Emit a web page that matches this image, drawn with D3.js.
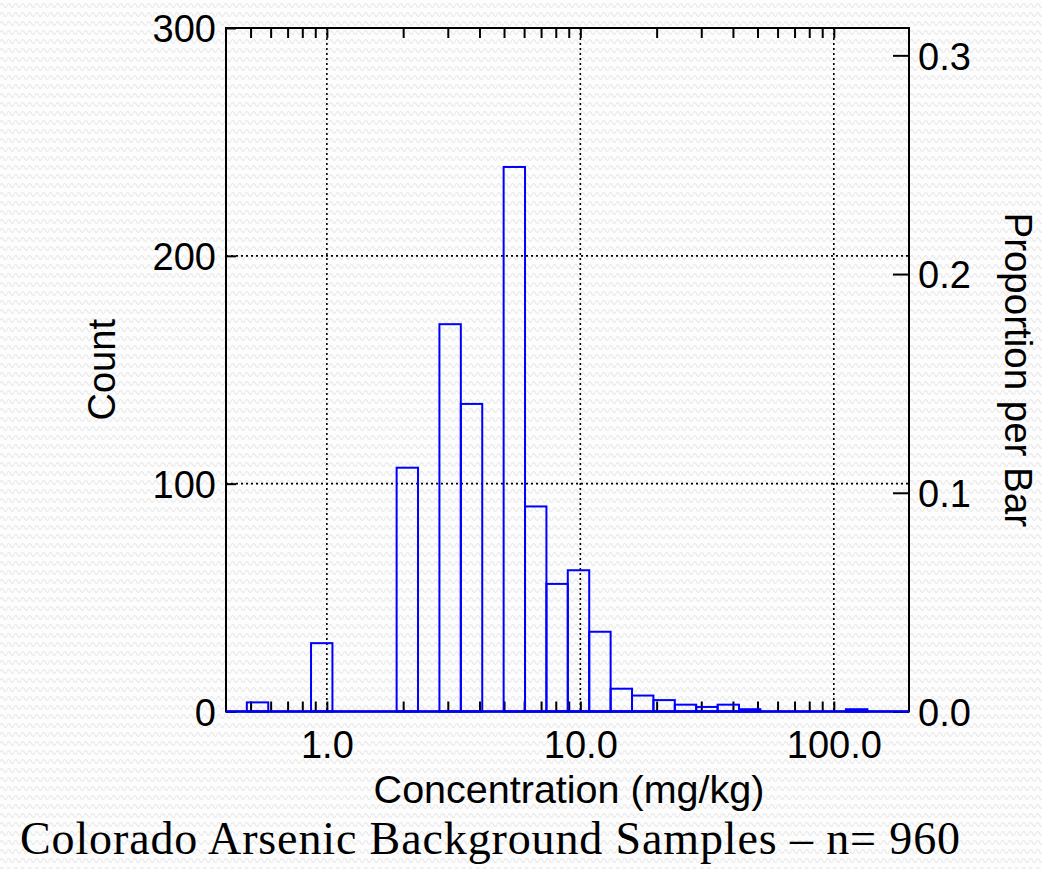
<!DOCTYPE html>
<meta charset="utf-8">
<style>
  body { margin: 0; background: #ffffff; }
  text { font-family: "Liberation Sans", Arial, sans-serif; }
</style>

<!-- Load d3.js -->
<script src="https://d3js.org/d3.v7.min.js"></script>

<div id="chart"></div>

<script>

// histogram bins (log spaced), lower/upper edges in mg/kg
const binEdges = [0.4834, 0.5871, 0.7129, 0.8660, 1.0519, 1.2776, 1.5516, 1.8847, 2.2889, 2.7800,
                  3.3770, 4.1019, 4.9819, 6.0509, 7.3487, 8.9238, 10.840, 13.167, 15.992, 19.423,
                  23.589, 28.649, 34.797, 42.267, 51.331, 62.34, 75.71, 91.96, 111.7, 135.7];
// count in each bin
const counts = [4, 0, 0, 30, 0, 0, 0, 107, 0, 170,
                135, 0, 239, 90, 56, 62, 35, 10, 7, 5,
                3, 2, 3, 1, 0, 0, 0, 0, 1];
const nTotal = 960;

// tick labels
const xMajor = [1, 10, 100];
const xMinor = [0.5, 0.6, 0.7, 0.8, 0.9, 2, 3, 4, 5, 6, 7, 8, 9, 20, 30, 40, 50, 60, 70, 80, 90];
const yTicks = [0, 100, 200, 300];
const propTicks = [0.0, 0.1, 0.2, 0.3];

const W = 1042, H = 869;
const plot = {left: 226, right: 909, top: 28, bottom: 711.5};

const svg = d3.select("#chart")
  .append("svg")
  .attr("width", W)
  .attr("height", H);

// textured background
const defs = svg.append("defs");
const pat = defs.append("pattern")
  .attr("id", "bg")
  .attr("width", 7)
  .attr("height", 9)
  .attr("patternUnits", "userSpaceOnUse");
pat.append("rect").attr("width", 7).attr("height", 9).attr("fill", "#fdfdfd");
pat.append("path")
  .attr("d", "M0,5.5 Q1.75,1.5 3.5,5.5 T7,5.5")
  .attr("fill", "none")
  .attr("stroke", "#e9e9e9")
  .attr("stroke-width", 1.2);
svg.append("rect").attr("width", W).attr("height", H).attr("fill", "url(#bg)");

// scales
const x = d3.scaleLog()
  .domain([0.4, 198])
  .range([plot.left, plot.right]);

const y = d3.scaleLinear()
  .domain([0, 300])
  .range([plot.bottom, plot.top]);

const yProp = d3.scaleLinear()
  .domain([0, 300 / nTotal])
  .range([plot.bottom, plot.top]);

// dotted grid
const grid = svg.append("g")
  .attr("stroke", "#000")
  .attr("stroke-width", 1.6)
  .attr("stroke-dasharray", "2,3");
grid.selectAll("line.v")
  .data(xMajor)
  .join("line")
  .attr("class", "v")
  .attr("x1", d => x(d)).attr("x2", d => x(d))
  .attr("y1", plot.top).attr("y2", plot.bottom);
grid.selectAll("line.h")
  .data([100, 200])
  .join("line")
  .attr("class", "h")
  .attr("x1", plot.left).attr("x2", plot.right)
  .attr("y1", d => y(d)).attr("y2", d => y(d));

// axes ticks (inward)
const tickStyle = g => {
  g.select(".domain").remove();
  g.selectAll(".tick line").attr("stroke", "#000").attr("stroke-width", 2);
  g.selectAll(".tick text").attr("font-size", 38).attr("fill", "#000")
    .style("font-family", '"Liberation Sans", Arial, sans-serif');
};

svg.append("g")
  .attr("transform", `translate(0, ${plot.bottom})`)
  .call(d3.axisBottom(x).tickValues(xMinor.concat(xMajor)).tickSize(-10).tickFormat(""))
  .call(tickStyle);

svg.append("g")
  .attr("transform", `translate(0, ${plot.top})`)
  .call(d3.axisTop(x).tickValues(xMinor.concat(xMajor)).tickSize(-10).tickFormat(""))
  .call(tickStyle);

// x labels
svg.append("g")
  .attr("transform", `translate(0, ${plot.bottom})`)
  .call(d3.axisBottom(x).tickValues(xMajor).tickSize(0).tickPadding(20).tickFormat(d3.format(".1f")))
  .call(tickStyle);

// left axis
svg.append("g")
  .attr("transform", `translate(${plot.left}, 0)`)
  .call(d3.axisLeft(y).tickValues(yTicks).tickSize(-10).tickPadding(10).tickFormat(d3.format("d")))
  .call(tickStyle)
  .call(g => g.selectAll(".tick text").attr("dy", "0.36em"));

// right axis
svg.append("g")
  .attr("transform", `translate(${plot.right}, 0)`)
  .call(d3.axisRight(yProp).tickValues(propTicks).tickSize(-16).tickPadding(9).tickFormat(d3.format(".1f")))
  .call(tickStyle)
  .call(g => g.selectAll(".tick text").attr("dy", "0.36em"));

// bars
const bins = counts.map((c, i) => ({x0: binEdges[i], x1: binEdges[i + 1], n: c}))
  .filter(d => d.n > 0);

svg.append("g")
  .selectAll("rect")
  .data(bins)
  .join("rect")
  .attr("x", d => x(d.x0))
  .attr("width", d => x(d.x1) - x(d.x0))
  .attr("y", d => y(d.n))
  .attr("height", d => y(0) - y(d.n))
  .attr("fill", "none")
  .attr("stroke", "#0000ff")
  .attr("stroke-width", 2);

// frame
svg.append("rect")
  .attr("x", plot.left).attr("y", plot.top)
  .attr("width", plot.right - plot.left)
  .attr("height", plot.bottom - plot.top)
  .attr("fill", "none")
  .attr("stroke", "#000")
  .attr("stroke-width", 2);

// blue baseline of histogram
svg.append("line")
  .attr("x1", plot.left).attr("x2", plot.right)
  .attr("y1", y(0)).attr("y2", y(0))
  .attr("stroke", "#0000ff")
  .attr("stroke-width", 2.5);

// axis titles
svg.append("text")
  .attr("transform", `translate(115, ${(plot.top + plot.bottom) / 2}) rotate(-90)`)
  .attr("text-anchor", "middle")
  .attr("font-size", 38)
  .text("Count");

svg.append("text")
  .attr("transform", `translate(1005, ${(plot.top + plot.bottom) / 2}) rotate(90)`)
  .attr("text-anchor", "middle")
  .attr("font-size", 38.5)
  .text("Proportion per Bar");

svg.append("text")
  .attr("x", 569).attr("y", 803)
  .attr("text-anchor", "middle")
  .attr("font-size", 39.5)
  .text("Concentration (mg/kg)");

// slide caption
svg.append("text")
  .attr("x", 20).attr("y", 854)
  .attr("font-size", 46)
  .attr("textLength", 940)
  .attr("lengthAdjust", "spacing")
  .style("font-family", '"Liberation Serif", "Times New Roman", serif')
  .text("Colorado Arsenic Background Samples – n= 960");

</script>
